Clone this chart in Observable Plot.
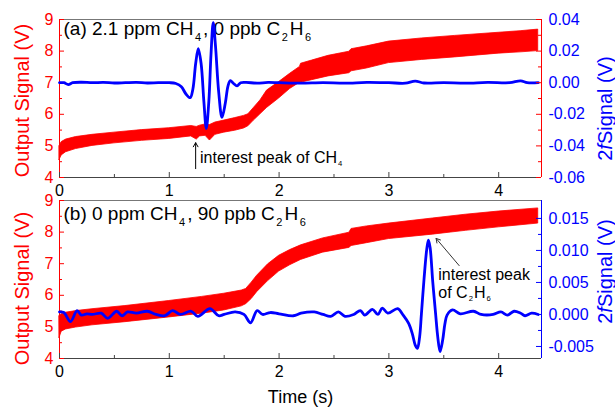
<!DOCTYPE html>
<html><head><meta charset="utf-8">
<script src="https://cdn.jsdelivr.net/npm/d3@7"></script>
<script src="https://cdn.jsdelivr.net/npm/@observablehq/plot@0.6"></script>
<style>
body{margin:0;background:#fff;}
#wrap{position:relative;width:615px;height:407px;overflow:hidden;}
#wrap svg{position:absolute;left:0;overflow:visible;background:transparent !important;}
</style></head><body><div id="wrap"></div>
<script>
// ---------- data ----------
const xTicks = [0, 1, 2, 3, 4];
const xMinor = [0.5, 1.5, 2.5, 3.5];
const outTicks = [4, 5, 6, 7, 8, 9];
const outMinor = [4.5, 5.5, 6.5, 7.5, 8.5];
const sigTicksA = [-0.06, -0.04, -0.02, 0, 0.02, 0.04];
const sigMinorA = [-0.05, -0.03, -0.01, 0.01, 0.03];
const sigTicksB = [-0.005, 0, 0.005, 0.01, 0.015];
const sigMinorB = [-0.0025, 0.0025, 0.0075, 0.0125];

// panel (a): output signal envelope (V)
const timeA = [0, 0.02, 0.06, 0.15, 0.3, 0.5, 0.75, 1.0, 1.2, 1.25, 1.28, 1.33, 1.37, 1.42, 1.5, 1.6, 1.68, 1.72, 1.77, 1.83, 1.89, 2.0, 2.1, 2.19, 2.2, 2.3, 2.45, 2.64, 2.66, 2.8, 3.0, 3.3, 3.6, 4.0, 4.2, 4.36];
const outHiA = [5.0, 5.12, 5.2, 5.28, 5.35, 5.42, 5.5, 5.56, 5.63, 5.6, 5.64, 5.68, 5.66, 5.74, 5.8, 5.88, 5.95, 6.0, 6.2, 6.44, 6.75, 7.02, 7.28, 7.5, 7.6, 7.7, 7.85, 7.98, 8.06, 8.15, 8.3, 8.4, 8.48, 8.58, 8.63, 8.68];
const outLoA = [4.55, 4.7, 4.8, 4.9, 5.0, 5.08, 5.16, 5.22, 5.3, 5.2, 5.3, 5.32, 5.17, 5.35, 5.42, 5.48, 5.55, 5.62, 5.8, 6.0, 6.2, 6.5, 6.8, 7.0, 7.0, 7.08, 7.2, 7.3, 7.36, 7.45, 7.62, 7.72, 7.8, 7.92, 7.96, 8.0];
// panel (a): 2f signal (V)
const time2fA = [0, 0.04, 0.08, 0.12, 0.2, 0.3, 0.4, 0.5, 0.6, 0.7, 0.8, 0.9, 1.0, 1.06, 1.11, 1.15, 1.19, 1.215, 1.24, 1.264, 1.29, 1.315, 1.337, 1.36, 1.38, 1.40, 1.42, 1.45, 1.48, 1.51, 1.535, 1.556, 1.585, 1.617, 1.65, 1.7, 1.8, 1.9, 2.0, 2.2, 2.4, 2.6, 2.8, 3.0, 3.15, 3.24, 3.32, 3.5, 3.7, 3.9, 4.1, 4.2, 4.26, 4.36];
const sig2fA = [0, 0, -0.0012, 0, 0.0003, 0, 0.0002, -0.0002, 0, 0.0002, -0.0002, 0, 0, -0.0005, -0.0025, -0.007, -0.0095, -0.004, 0.012, 0.0215, 0.012, -0.012, -0.029, -0.012, 0.018, 0.038, 0.024, -0.006, -0.022, -0.013, -0.002, 0.0013, -0.0005, -0.002, 0, 0.0002, -0.0003, 0.0002, 0, -0.0003, 0, -0.0003, 0.0002, 0, -0.0003, 0.001, -0.0002, 0, -0.0003, 0.0002, 0, 0.0012, 0, 0];

// panel (b): output signal envelope (V)
const timeB = [0, 0.02, 0.06, 0.15, 0.3, 0.6, 1.0, 1.3, 1.5, 1.66, 1.7, 1.75, 1.8, 1.9, 2.0, 2.1, 2.2, 2.4, 2.64, 2.66, 2.8, 3.0, 3.4, 3.7, 4.0, 4.36];
const outHiB = [5.35, 5.4, 5.45, 5.5, 5.56, 5.66, 5.82, 5.95, 6.05, 6.15, 6.2, 6.4, 6.62, 6.98, 7.25, 7.43, 7.58, 7.8, 7.98, 8.1, 8.18, 8.27, 8.43, 8.55, 8.65, 8.75];
const outLoB = [4.65, 4.85, 4.92, 4.98, 5.05, 5.15, 5.3, 5.42, 5.52, 5.65, 5.72, 5.88, 6.1, 6.45, 6.75, 6.95, 7.12, 7.35, 7.5, 7.56, 7.65, 7.78, 7.92, 8.04, 8.15, 8.27];
// panel (b): 2f signal (V)
const time2fB = [0, 0.04, 0.1, 0.16, 0.2, 0.25, 0.3, 0.38, 0.44, 0.52, 0.57, 0.62, 0.7, 0.8, 0.88, 0.96, 1.03, 1.1, 1.2, 1.26, 1.37, 1.45, 1.5, 1.6, 1.68, 1.74, 1.8, 1.85, 1.92, 2.0, 2.13, 2.2, 2.32, 2.4, 2.47, 2.54, 2.6, 2.68, 2.74, 2.78, 2.85, 2.9, 2.94, 2.99, 3.08, 3.13, 3.18, 3.215, 3.24, 3.26, 3.28, 3.296, 3.32, 3.345, 3.36, 3.375, 3.40, 3.426, 3.445, 3.466, 3.49, 3.51, 3.53, 3.58, 3.65, 3.77, 3.84, 3.95, 4.02, 4.08, 4.14, 4.2, 4.24, 4.3, 4.36];
const sig2fB = [0.0004, 0.0003, -0.0011, 0.0006, -0.0001, 0.0001, 0, 0.0002, -0.0006, 0.0005, -0.0002, 0.0004, 0.0002, 0.0005, 0, -0.0002, 0.0006, 0, 0.0005, -0.0003, 0.0009, -0.0002, 0, 0.0004, 0, -0.0013, 0.0006, 0, 0.0003, 0.0001, -0.0002, 0.0002, 0.0004, 0, -0.0003, 0.0004, -0.0003, 0, 0.0006, -0.0001, 0.0008, 0, 0.001, 0.0002, 0.0009, -0.0001, -0.0014, -0.0031, -0.0048, -0.0053, -0.0035, 0, 0.0055, 0.0102, 0.0116, 0.0105, 0.005, 0, -0.0035, -0.0058, -0.004, -0.0015, -0.0001, 0.0007, 0.0001, 0.0005, 0, 0, 0.0004, -0.0001, 0.0005, 0.0002, -0.0002, 0.0002, 0];

// texts & annotations (data coordinates of each panel's output-signal axis)
const titleA = "(a) 2.1 ppm CH_4, 0 ppb C_2H_6";
const titleB = "(b) 0 ppm CH_4, 90 ppb C_2H_6";
const noteA = [{text: "interest peak of CH_4", x: 1.28, y: 4.47}];
const arrowA = [{x1: 1.24, y1: 4.28, x2: 1.24, y2: 5.1}];
const noteB = [{text: "interest peak\nof C_2H_6", x: 3.45, y: 5.92}];
const arrowB = [{x1: 3.64, y1: 6.94, x2: 3.43, y2: 7.8}];

const xDomain = [0, 4.39];
const outDomain = [4, 9];
const sigDomainA = [-0.06, 0.04];
const sigDomainB = [-0.00688, 0.0178];

// ---------- style ----------
const W = 615, ML = 59, MR = 74;
const RED = "#ff0000", BLUE = "#0000ff";
const FONT = "'Liberation Sans', Arial, Helvetica, sans-serif";
const wrap = document.getElementById("wrap");

function richText(svg) {
  const NS = "http://www.w3.org/2000/svg";
  svg.querySelectorAll("text, tspan").forEach(el => {
    if (el.children.length) return;
    const s = el.textContent;
    if (s.includes("*")) {
      el.textContent = "";
      s.split(/\*(.*?)\*/).forEach((p, i) => {
        if (!p) return;
        const t = document.createElementNS(NS, "tspan");
        t.textContent = p;
        if (i % 2) t.setAttribute("font-style", "italic");
        el.appendChild(t);
      });
      return;
    }
    if (!s.includes("_")) return;
    const fsEl = el.closest("[font-size]");
    const fs = fsEl ? parseFloat(fsEl.getAttribute("font-size")) : 16;
    const big = fs >= 18;
    const sub = fs * (big ? 0.58 : 0.48), sh = fs * (big ? 0.3 : 0.22);
    const gapB = big ? 1.5 : 1, gapA = big ? 2 : 1;
    el.textContent = "";
    let shifted = false;
    s.split(/_(\d)/).forEach((p, i) => {
      if (!p) return;
      const t = document.createElementNS(NS, "tspan");
      t.textContent = p;
      if (i % 2) { t.setAttribute("font-size", sub); t.setAttribute("dy", sh); t.setAttribute("dx", gapB); shifted = true; }
      else if (shifted) { t.setAttribute("dy", -sh); t.setAttribute("dx", gapA); shifted = false; }
      el.appendChild(t);
    });
  });
}

function outputPlot(p) {
  const plotW = W - ML - MR, plotH = p.height - p.mt - p.mb;
  const data = p.time.map((t, i) => ({t, lo: p.lo[i], hi: p.hi[i]}));
  const marks = [
    Plot.area(data, {x1: "t", y1: "lo", y2: "hi", fill: RED, stroke: RED, strokeWidth: 0.8}),
    Plot.text([p.title], {frameAnchor: "top-left", dx: 4, dy: p.titleDy, textAnchor: "start", lineAnchor: "top", fontSize: 19, fill: "black"}),
    Plot.ruleY([outDomain[1]], {stroke: "#777"}),
    Plot.ruleY([outDomain[0]], {stroke: "#444"}),
    Plot.ruleX([xDomain[0]], {stroke: RED}),
    Plot.tickX(xTicks, {stroke: "#444", insetTop: plotH - 5}),
    Plot.tickX(xMinor, {stroke: "#444", insetTop: plotH - 3}),
    Plot.tickY(outTicks, {stroke: RED, insetRight: plotW - 5}),
    Plot.tickY(outMinor, {stroke: RED, insetRight: plotW - 3}),
    Plot.axisX(xTicks, {tickSize: 0, tickPadding: 7, fontSize: 16, color: "black", label: null}),
    Plot.axisY(outTicks, {anchor: "left", tickSize: 0, tickPadding: 6, fontSize: 16, color: RED, label: null}),
    Plot.text(["Output Signal (V)"], {frameAnchor: "left", dx: -37, dy: p.labelDy, rotate: -90, textAnchor: "middle", lineAnchor: "middle", fontSize: 20, fill: RED}),
    Plot.arrow(p.arrow, {x1: "x1", y1: "y1", x2: "x2", y2: "y2", stroke: p.arrowColor, strokeWidth: 1, headLength: 7}),
    Plot.text(p.note, {x: "x", y: "y", text: "text", textAnchor: "start", lineAnchor: "bottom", lineHeight: 1.12, fontSize: 16, fill: "black"})
  ];
  if (p.xLabel) marks.push(Plot.text([p.xLabel], {frameAnchor: "bottom", dy: 44, textAnchor: "middle", lineAnchor: "bottom", fontSize: 18, fill: "black"}));
  return Plot.plot({
    width: W, height: p.height, marginLeft: ML, marginRight: MR, marginTop: p.mt, marginBottom: p.mb,
    style: {background: "transparent", fontFamily: FONT, overflow: "visible"},
    x: {domain: xDomain, axis: null}, y: {domain: outDomain, axis: null},
    marks
  });
}

function sigPlot(p) {
  const plotW = W - ML - MR;
  const data = p.time.map((t, i) => ({t, v: p.v[i]}));
  return Plot.plot({
    width: W, height: p.height, marginLeft: ML, marginRight: MR, marginTop: p.mt, marginBottom: p.mb,
    style: {background: "transparent", fontFamily: FONT, overflow: "visible"},
    x: {domain: xDomain, axis: null}, y: {domain: p.domain, axis: null},
    marks: [
      Plot.line(data, {x: "t", y: "v", stroke: BLUE, strokeWidth: 2.8, curve: "catmull-rom"}),
      Plot.ruleX([xDomain[1]], {stroke: p.axisColor}),
      Plot.tickY(p.ticks, {stroke: p.axisColor, insetLeft: plotW - 5}),
      Plot.tickY(p.minor, {stroke: p.axisColor, insetLeft: plotW - 3}),
      Plot.axisY(p.ticks, {anchor: "right", tickSize: 0, tickPadding: 7, fontSize: 16, color: BLUE, label: null, tickFormat: d => d.toFixed(p.dec)}),
      Plot.text(["2*f*Signal (V)"], {frameAnchor: "right", dx: 64, dy: p.labelDy, rotate: -90, textAnchor: "middle", lineAnchor: "middle", fontSize: 20, fill: BLUE})
    ]
  });
}

function place(svg, top) {
  richText(svg);
  svg.style.top = top + "px";
  wrap.appendChild(svg);
}

const panelA = {height: 195, mt: 19, mb: 18};
const panelB = {height: 212, mt: 5, mb: 49};

place(outputPlot({...panelA, time: timeA, lo: outLoA, hi: outHiA, title: titleA, titleDy: 2, note: noteA, arrow: arrowA, arrowColor: "black", labelDy: 2}), 0);
place(sigPlot({...panelA, time: time2fA, v: sig2fA, domain: sigDomainA, ticks: sigTicksA, minor: sigMinorA, dec: 2, axisColor: RED, labelDy: 10}), 0);
place(outputPlot({...panelB, time: timeB, lo: outLoB, hi: outHiB, title: titleB, titleDy: 6, note: noteB, arrow: arrowB, arrowColor: "#333", xLabel: "Time (s)", labelDy: 9}), 195);
place(sigPlot({...panelB, time: time2fB, v: sig2fB, domain: sigDomainB, ticks: sigTicksB, minor: sigMinorB, dec: 3, axisColor: BLUE, labelDy: -8}), 195);
</script>
</body></html>
